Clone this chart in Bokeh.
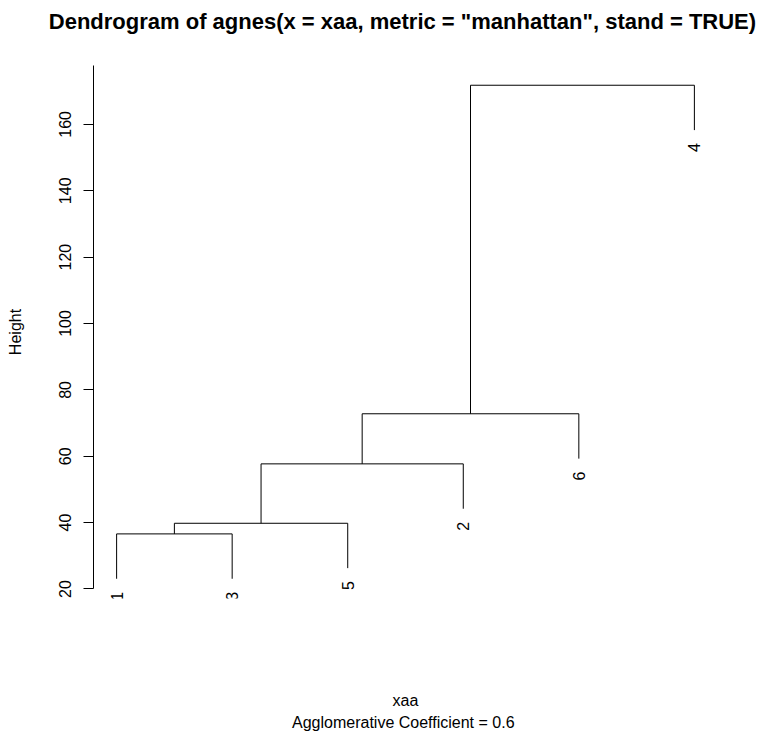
from bokeh.plotting import figure
from bokeh.models import FixedTicker, Range1d, Title, LinearAxis
from bokeh.core.properties import value
from bokeh.embed import file_html
from bokeh.resources import INLINE
import math

# ---- data ----
leaf_order = [1, 3, 5, 2, 6, 4]                 # leaves left to right
leaf_labels = ["1", "3", "5", "2", "6", "4"]
merge_left = [-1, 1, 2, 3, 4]                    # R-style merge matrix (neg = leaf)
merge_right = [-3, -5, -2, -6, -4]
merge_height = [36.6, 39.8, 57.7, 72.8, 171.8]
y_ticks = [20, 40, 60, 80, 100, 120, 140, 160]

title_text = 'Dendrogram of  agnes(x = xaa, metric = "manhattan", stand = TRUE)'
x_label = "xaa"
sub_label = "Agglomerative Coefficient =  0.6"
y_label = "Height"

FONT = "Liberation Sans"

# ---- build dendrogram geometry ----
hang = 0.1 * (max(merge_height) - min(merge_height))
leaf_x = {leaf: i + 1 for i, leaf in enumerate(leaf_order)}
node_x = []
x0s, y0s, x1s, y1s = [], [], [], []
leaf_bottom = {}
for i, (a, b) in enumerate(zip(merge_left, merge_right)):
    h = merge_height[i]
    xs = []
    for c in (a, b):
        if c < 0:
            cx = leaf_x[-c]
            cy = h - hang
            leaf_bottom[-c] = cy
        else:
            cx = node_x[c - 1]
            cy = merge_height[c - 1]
        xs.append(cx)
        x0s.append(cx); y0s.append(cy); x1s.append(cx); y1s.append(h)
    x0s.append(xs[0]); y0s.append(h); x1s.append(xs[1]); y1s.append(h)
    node_x.append(sum(xs) / 2)

y_lo = min(leaf_bottom.values())
y_hi = max(merge_height)
pad = 0.04 * (y_hi - y_lo)
n = len(leaf_order)

p = figure(width=758, height=731, output_backend="svg", toolbar_location=None,
           x_range=Range1d(1 - 0.04 * (n - 1), n + 0.04 * (n - 1)),
           y_range=Range1d(y_lo - pad, y_hi + pad),
           x_axis_location=None,
           min_border_left=93, min_border_right=41,
           min_border_top=65, min_border_bottom=133)
p.outline_line_color = None
p.grid.visible = False
p.background_fill_color = "white"
p.border_fill_color = "white"

p.segment(x0=x0s, y0=y0s, x1=x1s, y1=y1s, line_color="black", line_width=1)

# leaf labels
lx = [leaf_x[l] for l in leaf_order]
ly = [leaf_bottom[l] for l in leaf_order]
p.text(x=lx, y=ly, text=leaf_labels, angle=math.pi / 2, text_align="right",
       text_baseline="middle", y_offset=13, text_font=value(FONT),
       text_font_size="16px", text_color="black")

ax = p.yaxis[0]
ax.ticker = FixedTicker(ticks=y_ticks)
ax.bounds = (y_ticks[0], y_hi + pad)
ax.major_tick_out = 10
ax.major_tick_in = 0
ax.minor_tick_out = 0
ax.minor_tick_in = 0
ax.major_label_orientation = "vertical"
ax.major_label_standoff = 12
ax.major_label_text_font = FONT
ax.major_label_text_font_size = "16px"
ax.major_label_text_color = "black"
ax.axis_line_color = "black"
ax.major_tick_line_color = "black"
ax.axis_label = y_label
ax.axis_label_text_font = FONT
ax.axis_label_text_font_size = "16px"
ax.axis_label_text_font_style = "normal"
ax.axis_label_text_color = "black"
ax.axis_label_standoff = 33

# bottom axis used only to carry the x label
xax = LinearAxis(ticker=FixedTicker(ticks=[]), axis_line_color=None,
                 major_tick_out=0, major_tick_in=0, minor_tick_out=0, minor_tick_in=0,
                 major_label_text_font_size="0px",
                 axis_label=x_label, axis_label_text_font=FONT,
                 axis_label_text_font_size="16px", axis_label_text_font_style="normal",
                 axis_label_text_color="black", axis_label_standoff=93)
p.add_layout(xax, "below")

# main title: a thin spacer panel next to the frame, then the title above it
p.title.text = ""
spacer = Title(text=" ", text_font_size="1px", standoff=22)
main_title = Title(text=title_text, align="center", vertical_align="top",
                   text_font=FONT, text_font_size="22px", text_font_style="bold",
                   text_color="black", standoff=10)
p.add_layout(spacer, "above")
p.add_layout(main_title, "above")

t_sub = Title(text=sub_label, align="center", text_font=FONT, text_font_size="16px",
              text_font_style="normal", text_color="black", standoff=0)
p.add_layout(t_sub, "below")

open("out.html", "w").write(file_html(p, INLINE))
